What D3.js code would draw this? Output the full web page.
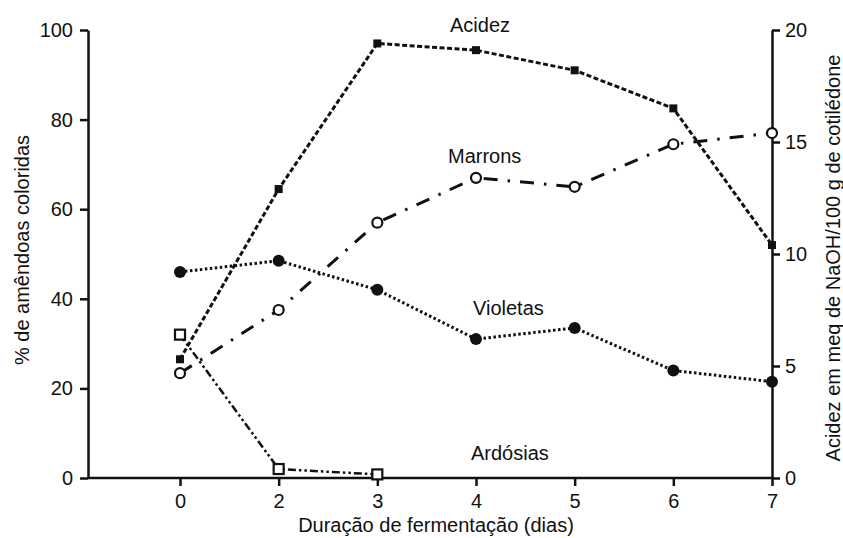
<!DOCTYPE html>
<html>
<head>
<meta charset="utf-8">
<script src="https://cdn.jsdelivr.net/npm/d3@7"></script>
<style>
  body { margin: 0; background: white; }
  text { font-family: "Liberation Sans", Arial, sans-serif; }
</style>
</head>
<body>
<div id="container"></div>
<script>
// values
const days = ["0", "2", "3", "4", "5", "6", "7"];
const violetas = [46, 48.5, 42, 31, 33.5, 24, 21.5];
const marrons = [23.4, 37.5, 57, 67, 65, 74.5, 77];
const ardosiasDays = ["0", "2", "3"];
const ardosias = [32, 2, 0.8];
const acidez = [5.3, 12.9, 19.4, 19.1, 18.2, 16.5, 10.4];
const leftTicks = [0, 20, 40, 60, 80, 100];
const rightTicks = [0, 5, 10, 15, 20];

const W = 843, H = 538;
const margin = {top: 30, right: 71, bottom: 60, left: 88};
const width = W - margin.left - margin.right;
const height = H - margin.top - margin.bottom;

const svg = d3.select("#container")
  .append("svg")
  .attr("width", W)
  .attr("height", H)
  .style("background-color", "white");
const g = svg.append("g")
  .attr("transform", `translate(${margin.left}, ${margin.top})`);

// days are spaced evenly, like categories
let x = d3.scalePoint().domain(days).range([92, width]);
let yL = d3.scaleLinear().domain([0, 100]).range([height, 0]);
let yR = d3.scaleLinear().domain([0, 20]).range([height, 0]);

function styleAxis(sel) {
  sel.selectAll("path, line").attr("stroke", "#111").attr("stroke-width", 2.5);
  sel.selectAll("text").attr("font-size", 20).attr("fill", "#111")
    .attr("font-family", "Liberation Sans, Arial, sans-serif");
}

let xAxisG = g.append("g")
  .attr("transform", `translate(0, ${height})`)
  .call(d3.axisBottom(x).tickSize(8).tickPadding(8).tickSizeOuter(0))
  .call(styleAxis);
// the axis line runs from the left axis to the right one
xAxisG.select(".domain").attr("d", `M0,0H${width}`);

g.append("g")
  .call(d3.axisLeft(yL).tickValues(leftTicks).tickSize(8).tickPadding(7).tickSizeOuter(0))
  .call(styleAxis);

g.append("g")
  .attr("transform", `translate(${width}, 0)`)
  .call(d3.axisRight(yR).tickValues(rightTicks).tickSize(8).tickPadding(5).tickSizeOuter(0))
  .call(styleAxis);

// axis titles
svg.append("text")
  .attr("x", margin.left + 348)
  .attr("y", 532)
  .attr("text-anchor", "middle")
  .attr("font-size", 20)
  .attr("fill", "#111")
  .text("Duração de fermentação (dias)");
svg.append("text")
  .attr("transform", `translate(29, ${margin.top + 220}) rotate(-90)`)
  .attr("text-anchor", "middle")
  .attr("font-size", 20)
  .attr("fill", "#111")
  .text("% de amêndoas coloridas");
svg.append("text")
  .attr("transform", `translate(840, ${margin.top + 228}) rotate(-90)`)
  .attr("text-anchor", "middle")
  .attr("font-size", 20)
  .attr("fill", "#111")
  .text("Acidez em meq de NaOH/100 g de cotilédone");

// lines
function drawLine(xs, vals, scale, dash, w) {
  let line = d3.line()
    .x((d, i) => x(xs[i]))
    .y(d => scale(d));
  g.append("path")
    .datum(vals)
    .attr("d", line)
    .attr("fill", "none")
    .attr("stroke", "#111")
    .attr("stroke-width", w)
    .attr("stroke-dasharray", dash);
}
drawLine(days, acidez, yR, "5,2.5", 3);
drawLine(days, violetas, yL, "2.5,2.5", 3);
drawLine(days, marrons, yL, "14,10,2.5,10", 3);
drawLine(ardosiasDays, ardosias, yL, "8,3,2.5,3,2.5,3", 2.5);

// markers
g.selectAll(".viol")
  .data(violetas)
  .enter()
  .append("circle")
  .attr("class", "viol")
  .attr("cx", (d, i) => x(days[i]))
  .attr("cy", d => yL(d))
  .attr("r", 6)
  .attr("fill", "#111");

g.selectAll(".marr")
  .data(marrons)
  .enter()
  .append("circle")
  .attr("class", "marr")
  .attr("cx", (d, i) => x(days[i]))
  .attr("cy", d => yL(d))
  .attr("r", 5)
  .attr("fill", "white")
  .attr("stroke", "#111")
  .attr("stroke-width", 2.2);

g.selectAll(".ard")
  .data(ardosias)
  .enter()
  .append("rect")
  .attr("class", "ard")
  .attr("x", (d, i) => x(ardosiasDays[i]) - 5)
  .attr("y", d => yL(d) - 5)
  .attr("width", 10)
  .attr("height", 10)
  .attr("fill", "white")
  .attr("stroke", "#111")
  .attr("stroke-width", 2.2);

g.selectAll(".acid")
  .data(acidez)
  .enter()
  .append("rect")
  .attr("class", "acid")
  .attr("x", (d, i) => x(days[i]) - 4)
  .attr("y", d => yR(d) - 4)
  .attr("width", 8)
  .attr("height", 8)
  .attr("fill", "#111");

// series labels
const labels = [
  {t: "Acidez", x: 450, y: 32},
  {t: "Marrons", x: 448, y: 163},
  {t: "Violetas", x: 473, y: 315},
  {t: "Ardósias", x: 471, y: 460}
];
svg.selectAll(".lbl")
  .data(labels)
  .enter()
  .append("text")
  .attr("class", "lbl")
  .attr("x", d => d.x)
  .attr("y", d => d.y)
  .attr("font-size", 20)
  .attr("fill", "#111")
  .text(d => d.t);
</script>
</body>
</html>
